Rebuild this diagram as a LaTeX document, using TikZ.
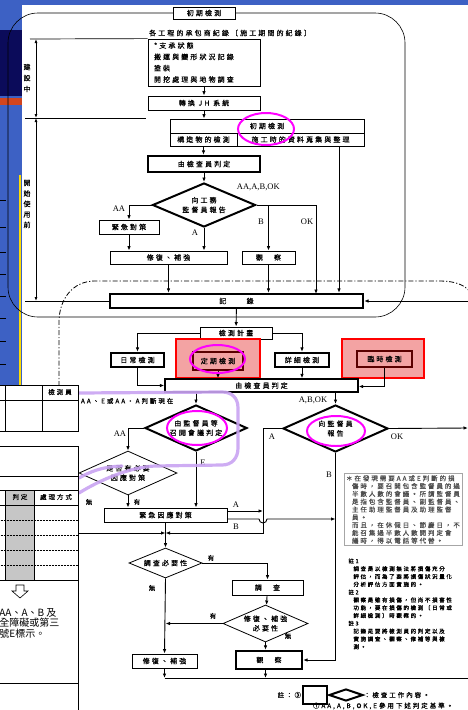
\documentclass[tikz,border=0pt]{standalone}
\usepackage{fontspec}
\setmainfont{Liberation Serif}
\newfontfamily\cjk[LetterSpace=30,FakeBold=0.3]{Noto Sans CJK TC}
\newfontfamily\cjkbf[LetterSpace=30,FakeBold=1.2]{Noto Sans CJK TC}
\newfontfamily\cjkplain{Noto Sans CJK TC}
\usetikzlibrary{shapes.geometric,arrows.meta,calc}
\definecolor{slideblue}{HTML}{3D61C4}
\definecolor{navyband}{HTML}{0B0B5A}
\definecolor{orangeband}{HTML}{D2451E}
\definecolor{pinkfill}{HTML}{F3A3A3}
\definecolor{darkred}{HTML}{5A0000}
\definecolor{lilac}{HTML}{C9A3F2}
\definecolor{magentaring}{HTML}{FF00FF}

\begin{document}
\begin{tikzpicture}[
    x=1pt, y=-1pt,
    line width=0.9pt,
    arr/.style={-{Latex[length=4.5pt,width=3.5pt]}},
    dimarr/.style={{Latex[length=4pt,width=3pt]}-{Latex[length=4pt,width=3pt]}, line width=1pt},
    box/.style={draw, fill=white, inner sep=0pt, line width=0.8pt,
                font=\cjk\fontsize{7}{8}\selectfont},
    thickbox/.style={box, line width=2.2pt},
    dia/.style={draw, diamond, aspect=2.2, inner sep=0pt, fill=white, align=center,
                line width=0.8pt, font=\cjk\fontsize{7}{9.5}\selectfont},
    thickdia/.style={dia, line width=2pt},
    lbl/.style={font=\fontsize{8.5}{9}\selectfont, inner sep=0.5pt},
    clbl/.style={font=\cjk\fontsize{6.5}{7}\selectfont, inner sep=0.5pt},
    ring/.style={draw=magentaring, line width=2pt},
    redframe/.style={draw=red, line width=2.6pt, fill=pinkfill},
    innerbox/.style={box, draw=darkred, fill=pinkfill, line width=1.3pt},
    hilite/.style={draw=lilac, line width=3.2pt, line cap=round, opacity=0.9},
    dashdot/.style={line width=0.8pt, dash pattern=on 5pt off 2pt on 1.2pt off 2pt}
]
\useasboundingbox (0,0) rectangle (468,710);
\clip (0,0) rectangle (468,710);

% ---------- slide behind ----------
\fill[slideblue] (0,0) rectangle (468,5);
\fill[slideblue] (0,0) rectangle (22,386);
\fill[navyband] (0,30) rectangle (22,96);
\fill[orangeband] (0,98) rectangle (22,105);
\draw[yellow!80!orange, line width=1.2pt] (20,175) -- (20,386);
\foreach \t in {200,227,252,274,296,318,341,364}
  \draw[black, line width=0.6pt] (0,\t) -- (6,\t);

% ---------- construction frame ----------
\draw[line width=0.6pt, rounded corners=30pt] (8,13) rectangle (405,317);
\draw[dashdot] (59,386) -- (59,322) .. controls (59,300) and (72,281) .. (95,281)
   -- (440,281) .. controls (455,281) and (465,285) .. (470,292);

\node[box, minimum width=62, minimum height=12] (initial) at (204,13) {初期檢測};
\node[clbl, font=\cjk\fontsize{7}{8}\selectfont] (recordtitle) at (230,33)
  {各工程的承包商紀錄〔施工期間的紀錄〕};
\node[box, minimum width=112, minimum height=47, text width=100, align=left,
      font=\cjk\fontsize{7}{11.3}\selectfont] (items) at (204,62.5)
  {*支承狀態\\*搬運與變形狀況記錄\\*塗裝\\*開挖處理與地物調查};
\node[box, minimum width=112, minimum height=14] (jh) at (204,103) {轉換 JH 系統};

% initial inspection table
\node[box, minimum width=194, minimum height=14] (ttop) at (267,126) {初期檢測};
\node[box, minimum width=67, minimum height=13] (tleft) at (203.5,139.5) {構造物的檢測};
\node[box, minimum width=127, minimum height=13] (tright) at (300.5,139.5) {施工時的資料蒐集與整理};
\coordinate (tout) at (339,146);

\node[thickbox, minimum width=112, minimum height=16] (judge1) at (204,164) {由檢查員判定};
\node[thickdia, minimum width=103, minimum height=44] (report1) at (204,205) {向工務\\監督員報告};
\node[box, minimum width=60, minimum height=14] (emerg1) at (129,227) {緊急對策};
\node[box, minimum width=117, minimum height=13] (repair1) at (168.5,257.5) {修復、補強};
\node[box, minimum width=53, minimum height=13] (observe1) at (268.5,257.5) {觀　察};
\node[thickbox, minimum width=253, minimum height=14] (record) at (236.5,301) {記　　錄};
\coordinate (rin) at (468,301);

\draw[arr] (items) -- (jh);
\draw[arr] (jh) -- (jh.south |- ttop.north);
\draw[arr] (tleft) -- (tleft.south |- judge1.north);
\draw[arr] (judge1) -- (report1);
\draw[arr] (report1.west) -| (emerg1.north);
\draw[arr] (report1.south) -- (report1.south |- repair1.north);
\draw[arr] (emerg1) -- (emerg1.south |- repair1.north);
\draw (report1.east) -- (316,205);
\draw[arr] (316,205) -- (316,294);
\draw[arr] (report1.east -| observe1.north) -- (observe1.north);
\draw[arr] (repair1) -- (repair1.south |- record.north);
\draw[arr] (observe1) -- (observe1.south |- record.north);
\draw[arr] (tout) -- (tout |- record.north);
\draw[arr] (rin) -- (record.east);

\node[lbl, anchor=west] (lab1) at (236,187) {AA,A,B,OK};
\node[lbl] (lab2) at (119,209) {AA};
\node[lbl] (lab3) at (261,222) {B};
\node[lbl] (lab4) at (307,222) {OK};
\node[lbl] (lab5) at (195,233) {A};

% ---------- left dimensions ----------
\draw[line width=0.7pt] (30,39) -- (items.north west);
\draw[line width=0.7pt] (25,118) -- (146,118);
\draw[line width=0.7pt] (25,301) -- (record.west);
\draw[dimarr] (36,39) -- (36,118);
\draw[dimarr] (36,118) -- (36,301);
\node[clbl, align=center, font=\cjk\fontsize{7}{11}\selectfont] (building) at (27,78) {建\\設\\中};
\node[clbl, align=center, font=\cjk\fontsize{7}{10.5}\selectfont] (beforeuse) at (27,204) {開\\始\\使\\用\\前};

% ---------- inspections ----------
\node[box, minimum width=72, minimum height=12] (plan) at (236,333) {檢測計畫};
\node[thickbox, minimum width=53, minimum height=14] (daily) at (137.5,360) {日常檢測};
\node[redframe, minimum width=84, minimum height=39] (perframe) at (218,358.5) {};
\node[innerbox, minimum width=50, minimum height=18] (periodic) at (218,361) {定期檢測};
\node[thickbox, minimum width=54, minimum height=14] (detail) at (302,360) {詳細檢測};
\node[redframe, minimum width=82, minimum height=39] (tmpframe) at (383,358.5) {};
\node[innerbox, minimum width=55, minimum height=16] (temporary) at (384.5,359) {臨時檢測};
\node[box, line width=1.3pt, minimum width=193, minimum height=13] (judge2) at (261.5,385.5) {由檢查員判定};

\draw[arr] (record) -- (plan);
\draw[arr] (plan.west) -| (daily.north);
\draw[arr] (plan.east) -| (detail.north);
\draw[arr] (daily.south) |- (judge2.west);
\draw[arr] (periodic) -- (periodic.south |- judge2.north);
\draw[arr] (detail) -- (detail.south |- judge2.north);
\draw[arr] (temporary.south) |- ([yshift=-1pt]judge2.east);

\node[thickdia, minimum width=102, minimum height=46] (meeting) at (196,428) {由監督員等\\召開會議判定};
\node[thickdia, minimum width=105, minimum height=47] (report2) at (335.5,428.5) {向監督員\\報告};
\node[dia, minimum width=98, minimum height=44] (need) at (128,473) {是否有必要\\因應對策};
\node[box, minimum width=123, minimum height=14] (emerg2) at (165.5,515) {緊急因應對策};
\node[dia, minimum width=73, minimum height=30] (survneed) at (165.5,563) {調查必要性};
\node[box, minimum width=71, minimum height=15] (survey) at (267.5,587.5) {調　查};
\node[dia, minimum width=85, minimum height=37] (repneed) at (265.5,623.5) {修復、補強\\必要性};
\node[box, minimum width=65, minimum height=14] (repair2) at (164.5,661) {修復、補強};
\node[thickbox, minimum width=66, minimum height=18] (observe2) at (269,660) {觀　察};

\coordinate (jn) at (165.5,533);
\coordinate (acol) at (263,533);
\coordinate (okend) at (468,428);
\coordinate (bend) at (468,678);
\coordinate (ea) at ([yshift=4pt]emerg2.east);
\coordinate (eb) at ([yshift=-4pt]emerg2.east);

\draw[arr] (judge2.south -| meeting.north) -- (meeting.north);
\draw[arr] (judge2.south -| report2.north) -- (report2.north);
\draw[arr] (meeting.west) -| (need.north);
\draw[arr] (meeting.south) -- (meeting.south |- emerg2.north);
\draw[arr] (need.south) -- (need.south |- emerg2.north);
\draw[arr] (need.west) |- (jn);
\draw[arr] (report2.west) -| (acol) -- (jn);
\draw[arr] (emerg2) -- (survneed);
\draw[arr] (ea) -- (ea -| acol);
\draw[arr] (eb) -- ($(eb -| acol)+(-4,0)$) arc[start angle=180, end angle=0, radius=4]
   -- (eb -| report2.south);
\draw[arr] (report2.east) -- (okend);
\draw[arr] (report2.south) |- (observe2.east);
\draw[arr] (survneed.east) -| (survey.north);
\draw[arr] (survey) -- (repneed);
\draw[arr] (repneed.west) -- (repneed.west -| survneed.south);
\draw[arr] (survneed.south) -- (repair2.north);
\draw[arr] (repneed.south) -- (repneed.south |- observe2.north);
\draw (repair2.south |- bend) -- (bend);
\draw[arr] (repair2) -- (repair2.south |- bend);
\draw[arr] (observe2.south -| repneed.south) -- (repneed.south |- bend);

\node[clbl, anchor=west] (lab6) at (80,401) {AA、E或AA‧A判斷現在};
\node[lbl] (lab7) at (313,400) {A,B,OK};
\node[lbl] (lab8) at (120,434) {AA};
\node[lbl] (lab9) at (203,463) {E};
\node[lbl] (lab10) at (272,437) {A};
\node[lbl] (lab11) at (397,437) {OK};
\node[lbl] (lab12) at (329,475) {B};
\node[clbl] (lab13) at (137,502) {有};
\node[clbl] (lab14) at (89,502) {無};
\node[lbl] (lab15) at (236,505) {A};
\node[lbl] (lab16) at (236,527) {B};
\node[clbl] (lab17) at (211,558) {有};
\node[clbl] (lab18) at (152,588) {無};
\node[clbl] (lab19) at (213,616) {有};
\node[clbl] (lab20) at (288,636) {無};

% ---------- magenta rings ----------
\draw[ring] (266,129) ellipse [x radius=28, y radius=16];
\draw[ring] (217.5,359) ellipse [x radius=27.5, y radius=14];
\draw[ring] (197,428) ellipse [x radius=30, y radius=17];
\draw[ring] (336,431) ellipse [x radius=29, y radius=15];

% ---------- notes ----------
\node[draw=gray!70, line width=0.8pt, text=gray!60!black, align=left, text width=114,
      inner sep=2pt, font=\cjk\fontsize{6.5}{7.8}\selectfont] (rule) at (403,509.5)
  {＊在發現需要AA或E判斷的損\\
   \hspace*{6pt}傷時，要召開包含監督員的過\\
   \hspace*{6pt}半數人數的會議。所謂監督員\\
   \hspace*{6pt}是指包含監督員、副監督員、\\
   \hspace*{6pt}主任助理監督員及助理監督\\
   \hspace*{6pt}員。\\
   \hspace*{6pt}而且，在休假日、節慶日，不\\
   \hspace*{6pt}能召集過半數人數開判定會\\
   \hspace*{6pt}議時，得以電話等代替。};
\node[anchor=north west, align=left, text width=115, inner sep=0pt,
      font=\cjkbf\fontsize{5.5}{7.8}\selectfont] (footnotes) at (348,558)
  {註1\\
   \hspace*{5pt}調查是以檢測無法將損傷充分\\
   \hspace*{5pt}評估，而為了要將損傷狀況量化\\
   \hspace*{5pt}分析評估方面實施的。\\
   註2\\
   \hspace*{5pt}觀察是雖有損傷，但尚不損害性\\
   \hspace*{5pt}功能，要在損傷的檢測〔日常或\\
   \hspace*{5pt}詳細檢測〕時觀察的。\\
   註3\\
   \hspace*{5pt}記錄是要將檢測員的判定以及\\
   \hspace*{5pt}實施調查、觀察、修補等與檢\\
   \hspace*{5pt}測。};

% ---------- legend ----------
\node[clbl, anchor=east] (legnote) at (302,695) {註：③};
\node[thickbox, minimum width=24, minimum height=18] (legbox) at (315,695) {};
\node[thickdia, minimum width=34, minimum height=12] (legdia) at (346,695) {};
\node[clbl, anchor=west] (legtext) at (363,695) {：檢查工作內容。};
\node[clbl, anchor=west] (legtext2) at (312,706) {①AA,A,B,OK,E參用下述判定基準。};

% ---------- highlighter ----------
\draw[hilite] (79,393) -- (222,392) .. controls (232,392) and (238,398) .. (238,408)
   -- (238,448) .. controls (238,458) and (232,465) .. (222,465)
   -- (155,466) .. controls (130,467) and (100,480) .. (79,493);
\draw[hilite] (79,478) .. controls (90,472) and (100,467) .. (122,466);

% ---------- overlapping slide ----------
\fill[white] (0,385) rectangle (79,710);
\draw[line width=0.7pt] (-1,385) rectangle (78,431);
\draw[line width=0.7pt] (5,385) -- (5,431);
\draw[line width=0.7pt] (42,385) -- (42,431);
\draw[line width=0.7pt] (-1,400) -- (78,400);
\node[clbl] (inspector) at (60,392) {檢測員};
\fill[gray!45] (5,490) rectangle (34,580);
\draw[line width=0.7pt] (-1,446) rectangle (78,712);
\foreach \r in {476,490,505,580}
  \draw[line width=0.7pt] (-1,\r) -- (78,\r);
\foreach \r in {520,535,550,565}
  \draw[densely dotted, line width=0.5pt] (-1,\r) -- (78,\r);
\draw[line width=0.7pt] (5,490) -- (5,580);
\draw[line width=0.7pt] (34,490) -- (34,580);
\node[clbl] (verdict) at (20,497) {判定};
\node[clbl] (handling) at (56,497) {處理方式};
\draw[line width=0.6pt] (16,585) -- (24,585) -- (24,591) -- (28,591) -- (20,598)
   -- (12,591) -- (16,591) -- cycle;
\node[anchor=west, align=left, inner sep=0pt, font=\cjkplain\fontsize{10}{10.5}\selectfont]
  (marking) at (-1,623) {AA、A、B 及\\全障礙或第三\\號E標示。};
\draw[line width=0.7pt] (-1,683) -- (78,683);

\end{tikzpicture}
\end{document}
